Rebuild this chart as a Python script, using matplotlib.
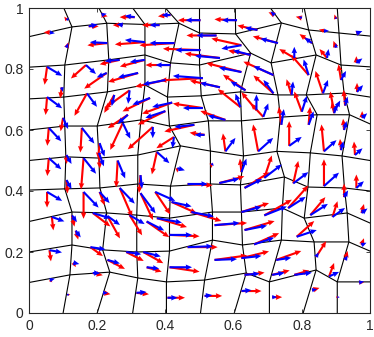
"""
Distorted quad mesh with two vector fields (red / blue) drawn at scattered points.
"""
import matplotlib
matplotlib.use("Agg")
import matplotlib.pyplot as plt
import numpy as np

plt.rcParams["font.family"] = ["Liberation Sans", "DejaVu Sans"]

# ── Mesh nodes (rows bottom -> top, 11 x 11) ─────────────────────────────────

MESH_X = [
    [0, 0.100, 0.200, 0.304, 0.403, 0.503, 0.602, 0.705, 0.804, 0.904, 1],
    [0, 0.120, 0.237, 0.319, 0.403, 0.515, 0.637, 0.705, 0.842, 0.904, 1],
    [0, 0.126, 0.216, 0.316, 0.412, 0.538, 0.626, 0.740, 0.836, 0.938, 1],
    [0, 0.126, 0.228, 0.316, 0.412, 0.538, 0.623, 0.743, 0.807, 0.933, 1],
    [0, 0.105, 0.208, 0.319, 0.415, 0.532, 0.620, 0.749, 0.818, 0.925, 1],
    [0, 0.108, 0.205, 0.319, 0.444, 0.532, 0.629, 0.727, 0.825, 0.918, 1],
    [0, 0.105, 0.200, 0.328, 0.412, 0.526, 0.623, 0.737, 0.845, 0.940, 1],
    [0, 0.102, 0.230, 0.340, 0.406, 0.505, 0.620, 0.730, 0.813, 0.924, 1],
    [0, 0.105, 0.234, 0.340, 0.415, 0.500, 0.650, 0.710, 0.842, 0.915, 1],
    [0, 0.126, 0.228, 0.340, 0.440, 0.500, 0.606, 0.740, 0.820, 0.909, 1],
    [0, 0.102, 0.205, 0.304, 0.400, 0.500, 0.605, 0.708, 0.807, 0.904, 1],
]
MESH_Y = [
    [0.000, 0.000, 0.000, 0.000, 0.000, 0.000, 0.000, 0.000, 0.000, 0.000, 0.000],
    [0.100, 0.125, 0.134, 0.115, 0.102, 0.108, 0.131, 0.102, 0.141, 0.102, 0.102],
    [0.200, 0.223, 0.207, 0.200, 0.203, 0.239, 0.223, 0.239, 0.233, 0.233, 0.203],
    [0.300, 0.331, 0.328, 0.321, 0.311, 0.331, 0.331, 0.344, 0.311, 0.328, 0.295],
    [0.403, 0.407, 0.410, 0.423, 0.416, 0.423, 0.420, 0.446, 0.413, 0.410, 0.400],
    [0.500, 0.512, 0.508, 0.518, 0.548, 0.531, 0.515, 0.530, 0.525, 0.515, 0.500],
    [0.600, 0.613, 0.613, 0.633, 0.613, 0.630, 0.630, 0.642, 0.650, 0.650, 0.620],
    [0.702, 0.708, 0.725, 0.748, 0.708, 0.712, 0.725, 0.715, 0.715, 0.721, 0.708],
    [0.806, 0.813, 0.830, 0.846, 0.820, 0.813, 0.852, 0.820, 0.846, 0.813, 0.807],
    [0.906, 0.938, 0.950, 0.946, 0.950, 0.918, 0.915, 0.951, 0.928, 0.918, 0.908],
    [1.000, 1.000, 1.000, 1.000, 1.000, 1.000, 1.000, 1.000, 1.000, 1.000, 1.000],
]

# ── Arrow data: (x, y, red_u, red_v, blue_u, blue_v) ─────────────────────────

ARROWS = [
    # top strip
    (0.111, 0.960, -0.005, 0.008, 0.004, 0.006),
    (0.213, 0.977, 0.012, -0.003, 0.010, 0.003),
    (0.310, 0.970, -0.030, 0.000, -0.020, 0.003),
    (0.415, 0.977, -0.025, -0.003, -0.018, 0.000),
    (0.503, 0.960, -0.045, 0.000, -0.030, 0.000),
    (0.610, 0.960, -0.045, 0.002, -0.030, 0.000),
    (0.720, 0.977, -0.012, 0.006, -0.008, 0.008),
    (0.800, 0.967, -0.012, 0.003, -0.006, 0.004),
    (0.900, 0.964, -0.003, 0.010, 0.000, 0.006),
    # y ~ 0.9
    (0.061, 0.920, -0.012, 0.000, 0.010, -0.002),
    (0.175, 0.940, 0.020, 0.000, 0.018, 0.004),
    (0.110, 0.870, 0.004, 0.012, 0.003, 0.010),
    (0.230, 0.885, -0.040, -0.005, -0.035, 0.002),
    (0.275, 0.944, -0.020, 0.000, -0.012, 0.002),
    (0.383, 0.944, -0.035, 0.000, -0.020, 0.000),
    (0.340, 0.888, -0.060, -0.005, -0.040, 0.005),
    (0.427, 0.885, -0.070, -0.005, -0.050, 0.000),
    (0.503, 0.862, -0.075, 0.003, -0.050, 0.000),
    (0.550, 0.910, -0.060, 0.000, -0.040, 0.000),
    (0.670, 0.928, -0.040, 0.010, -0.025, 0.005),
    (0.623, 0.878, -0.060, 0.015, -0.040, -0.008),
    (0.730, 0.885, -0.050, 0.015, -0.035, 0.010),
    (0.830, 0.885, -0.025, 0.020, -0.015, 0.012),
    (0.865, 0.925, -0.010, 0.003, 0.010, 0.000),
    (0.900, 0.870, -0.005, 0.015, 0.000, 0.010),
    (0.960, 0.917, 0.010, 0.005, 0.012, 0.005),
    # y ~ 0.8
    (0.053, 0.807, -0.005, -0.040, 0.030, -0.020),
    (0.167, 0.813, -0.030, -0.030, 0.020, -0.020),
    (0.228, 0.787, -0.045, -0.035, -0.020, -0.010),
    (0.266, 0.830, -0.040, -0.010, -0.030, -0.003),
    (0.340, 0.830, -0.050, -0.015, -0.030, -0.005),
    (0.415, 0.813, -0.050, 0.000, -0.030, 0.000),
    (0.510, 0.770, -0.085, -0.005, -0.060, 0.005),
    (0.320, 0.787, -0.060, -0.020, -0.040, -0.010),
    (0.400, 0.764, -0.060, -0.015, -0.045, -0.010),
    (0.560, 0.836, -0.070, 0.010, -0.050, 0.005),
    (0.650, 0.846, -0.045, 0.010, -0.035, 0.010),
    (0.623, 0.790, -0.070, 0.020, -0.045, 0.010),
    (0.717, 0.780, -0.060, 0.030, -0.040, 0.020),
    (0.778, 0.836, -0.030, 0.020, 0.000, 0.025),
    (0.874, 0.836, -0.015, 0.020, 0.003, 0.020),
    (0.960, 0.820, 0.000, 0.015, 0.012, 0.010),
    (0.820, 0.780, -0.035, 0.045, -0.010, 0.035),
    (0.915, 0.764, -0.005, 0.035, 0.010, 0.020),
    # y ~ 0.7
    (0.053, 0.708, -0.003, -0.040, 0.030, -0.025),
    (0.170, 0.720, -0.025, -0.050, 0.020, -0.030),
    (0.096, 0.740, -0.003, -0.025, 0.002, -0.010),
    (0.250, 0.715, -0.020, -0.040, -0.005, -0.025),
    (0.295, 0.730, -0.050, -0.040, -0.003, -0.030),
    (0.355, 0.705, -0.055, -0.030, -0.035, -0.015),
    (0.420, 0.690, -0.060, -0.025, -0.040, -0.010),
    (0.510, 0.672, -0.060, 0.010, -0.040, 0.000),
    (0.560, 0.740, -0.060, 0.015, -0.040, 0.010),
    (0.635, 0.730, -0.045, 0.035, -0.030, 0.020),
    (0.717, 0.720, -0.040, 0.040, -0.020, 0.030),
    (0.620, 0.675, -0.045, 0.040, -0.010, 0.030),
    (0.667, 0.665, -0.030, 0.040, 0.000, 0.035),
    (0.770, 0.715, -0.010, 0.035, 0.003, 0.030),
    (0.862, 0.720, -0.015, 0.050, 0.010, 0.030),
    (0.962, 0.725, 0.000, 0.020, 0.012, 0.015),
    (0.800, 0.660, -0.015, 0.045, 0.010, 0.035),
    (0.895, 0.660, -0.008, 0.045, 0.012, 0.025),
    (0.927, 0.680, -0.003, 0.035, 0.005, 0.020),
    # y ~ 0.6
    (0.058, 0.607, -0.003, -0.040, 0.025, -0.030),
    (0.100, 0.640, -0.005, -0.030, 0.010, -0.025),
    (0.155, 0.607, -0.003, -0.055, 0.025, -0.035),
    (0.207, 0.557, -0.003, -0.035, 0.010, -0.030),
    (0.290, 0.650, -0.040, -0.030, -0.020, -0.020),
    (0.275, 0.623, -0.025, -0.060, 0.015, -0.035),
    (0.400, 0.662, -0.055, -0.030, -0.040, -0.015),
    (0.363, 0.610, -0.050, -0.050, 0.000, -0.025),
    (0.425, 0.577, -0.035, -0.025, -0.003, -0.025),
    (0.485, 0.617, -0.060, -0.015, -0.040, -0.005),
    (0.576, 0.633, -0.050, 0.020, -0.035, 0.010),
    (0.515, 0.584, -0.030, 0.005, -0.020, 0.000),
    (0.576, 0.530, -0.005, 0.040, 0.020, 0.030),
    (0.672, 0.530, -0.010, 0.060, 0.030, 0.030),
    (0.687, 0.643, -0.025, 0.030, 0.010, 0.030),
    (0.740, 0.617, -0.005, 0.040, 0.005, 0.035),
    (0.763, 0.548, 0.000, 0.055, 0.025, 0.020),
    (0.820, 0.617, 0.003, 0.040, 0.010, 0.030),
    (0.865, 0.530, -0.005, 0.060, 0.025, 0.025),
    (0.895, 0.655, -0.005, 0.025, 0.005, 0.020),
    (0.924, 0.600, -0.002, 0.025, 0.005, 0.020),
    (0.956, 0.518, -0.002, 0.030, 0.015, 0.015),
    (0.977, 0.640, 0.000, 0.015, 0.010, 0.010),
    # y ~ 0.5
    (0.058, 0.508, -0.003, -0.040, 0.025, -0.025),
    (0.110, 0.518, 0.000, -0.020, 0.010, -0.020),
    (0.160, 0.508, -0.005, -0.070, 0.025, -0.035),
    (0.205, 0.525, 0.002, -0.035, 0.010, -0.030),
    (0.260, 0.500, -0.003, -0.060, 0.015, -0.040),
    (0.327, 0.452, -0.003, -0.040, 0.003, -0.030),
    (0.375, 0.528, -0.010, -0.050, 0.025, -0.025),
    (0.435, 0.475, 0.000, -0.010, 0.015, -0.005),
    (0.535, 0.490, 0.000, -0.010, 0.005, -0.005),
    (0.623, 0.462, -0.003, 0.030, 0.010, 0.030),
    (0.690, 0.443, 0.015, 0.050, 0.035, 0.030),
    (0.775, 0.425, 0.010, 0.050, 0.030, 0.025),
    (0.865, 0.416, 0.000, 0.060, 0.030, 0.030),
    (0.960, 0.410, 0.000, 0.030, 0.015, 0.015),
    (0.915, 0.534, -0.002, 0.025, 0.005, 0.020),
    # y ~ 0.4
    (0.053, 0.397, 0.000, -0.035, 0.030, -0.020),
    (0.110, 0.436, 0.002, -0.030, 0.010, -0.020),
    (0.160, 0.397, 0.000, -0.060, 0.030, -0.035),
    (0.207, 0.397, 0.010, -0.030, 0.020, -0.025),
    (0.266, 0.410, 0.025, -0.065, 0.030, -0.035),
    (0.327, 0.393, 0.025, -0.060, 0.030, -0.045),
    (0.370, 0.397, 0.030, -0.050, 0.040, -0.020),
    (0.418, 0.364, 0.050, -0.025, 0.040, -0.010),
    (0.465, 0.423, 0.050, -0.003, 0.040, 0.000),
    (0.558, 0.426, 0.050, 0.015, 0.040, 0.010),
    (0.632, 0.410, 0.050, 0.035, 0.035, 0.020),
    # y ~ 0.3
    (0.067, 0.315, 0.003, -0.030, 0.025, -0.010),
    (0.126, 0.320, 0.005, -0.025, 0.010, -0.015),
    (0.137, 0.270, 0.005, -0.020, 0.010, -0.015),
    (0.187, 0.328, 0.035, -0.030, 0.035, -0.012),
    (0.230, 0.318, 0.025, -0.050, 0.025, -0.020),
    (0.295, 0.321, 0.025, -0.045, 0.030, -0.020),
    (0.345, 0.300, 0.045, -0.035, 0.035, -0.020),
    (0.375, 0.311, 0.060, -0.020, 0.050, -0.010),
    (0.412, 0.256, 0.060, -0.003, 0.045, 0.000),
    (0.476, 0.331, 0.060, -0.020, 0.045, -0.010),
    (0.544, 0.288, 0.065, 0.005, 0.050, 0.005),
    (0.623, 0.331, 0.055, 0.020, 0.040, 0.012),
    (0.632, 0.272, 0.060, 0.020, 0.045, 0.010),
    (0.690, 0.320, 0.055, 0.035, 0.045, 0.020),
    (0.760, 0.344, 0.040, 0.050, 0.035, 0.025),
    (0.785, 0.250, 0.035, 0.035, 0.040, 0.015),
    (0.825, 0.321, 0.030, 0.040, 0.035, 0.025),
    (0.890, 0.315, 0.010, 0.035, 0.025, 0.020),
    (0.924, 0.380, 0.000, 0.030, 0.008, 0.015),
    (0.975, 0.328, 0.005, 0.020, 0.012, 0.010),
    # y ~ 0.2
    (0.060, 0.206, 0.003, -0.025, 0.025, -0.005),
    (0.130, 0.165, 0.005, -0.010, 0.012, -0.003),
    (0.180, 0.216, 0.025, -0.020, 0.030, -0.005),
    (0.230, 0.174, 0.035, -0.020, 0.025, -0.008),
    (0.285, 0.200, 0.035, -0.020, 0.030, -0.005),
    (0.335, 0.200, 0.040, -0.025, 0.035, -0.010),
    (0.345, 0.150, 0.030, -0.010, 0.025, -0.003),
    (0.412, 0.150, 0.060, -0.010, 0.045, 0.000),
    (0.465, 0.216, 0.060, 0.000, 0.050, 0.002),
    (0.544, 0.174, 0.065, 0.010, 0.045, 0.002),
    (0.623, 0.180, 0.055, 0.015, 0.040, 0.005),
    (0.660, 0.225, 0.050, 0.025, 0.040, 0.015),
    (0.725, 0.174, 0.050, 0.020, 0.030, 0.005),
    (0.842, 0.184, 0.020, 0.035, 0.005, 0.010),
    (0.927, 0.174, 0.005, 0.020, 0.005, 0.010),
    (0.975, 0.223, 0.005, 0.015, 0.010, 0.005),
    # bottom strip
    (0.061, 0.108, 0.005, -0.005, 0.010, 0.003),
    (0.114, 0.060, 0.005, 0.000, 0.003, 0.002),
    (0.217, 0.066, 0.015, -0.003, 0.010, 0.000),
    (0.187, 0.131, 0.020, -0.005, 0.015, 0.000),
    (0.315, 0.066, 0.025, -0.003, 0.020, 0.002),
    (0.406, 0.050, 0.035, 0.000, 0.020, 0.000),
    (0.515, 0.056, 0.035, 0.000, 0.015, 0.002),
    (0.623, 0.072, 0.040, 0.000, 0.020, 0.002),
    (0.713, 0.052, 0.020, 0.000, 0.010, 0.000),
    (0.632, 0.125, 0.040, 0.005, 0.030, 0.003),
    (0.713, 0.125, 0.035, 0.010, 0.025, 0.005),
    (0.778, 0.125, 0.030, 0.010, 0.035, 0.005),
    (0.830, 0.075, 0.015, 0.005, 0.010, 0.002),
    (0.880, 0.120, 0.010, 0.030, 0.020, 0.010),
    (0.904, 0.052, 0.003, 0.003, 0.005, 0.000),
    (0.968, 0.100, 0.010, 0.000, 0.010, 0.002),
]

TICKS = [0, 0.2, 0.4, 0.6, 0.8, 1]
TICK_LABELS = ["0", "0.2", "0.4", "0.6", "0.8", "1"]

# ── Plot ─────────────────────────────────────────────────────────────────────

mx = np.array(MESH_X)
my = np.array(MESH_Y)
arr = np.array(ARROWS)
px, py = arr[:, 0], arr[:, 1]

fig = plt.figure(figsize=(3.74, 3.37), dpi=100)
ax = fig.add_axes([29 / 374, 24 / 337, 341 / 374, 305 / 337])

for j in range(1, mx.shape[0] - 1):
    ax.plot(mx[j], my[j], color="black", lw=0.8, zorder=1)
for i in range(1, mx.shape[1] - 1):
    ax.plot(mx[:, i], my[:, i], color="black", lw=0.8, zorder=1)

# arrows drawn a bit longer than the stored vectors (quiver auto-scale look)
qkw = dict(angles="xy", scale_units="xy", scale=0.68, width=0.0062,
           headwidth=2.6, headlength=3.0, headaxislength=2.8, zorder=3)
ax.quiver(px, py, arr[:, 2], arr[:, 3], color="#ff0000", **qkw)
ax.quiver(px, py, arr[:, 4], arr[:, 5], color="#0000ff", **qkw)

ax.set_xlim(0, 1)
ax.set_ylim(0, 1)
ax.set_xticks(TICKS)
ax.set_xticklabels(TICK_LABELS)
ax.set_yticks(TICKS)
ax.set_yticklabels(TICK_LABELS)
ax.tick_params(direction="in", length=3, width=0.6, colors="#262626",
               labelsize=10, top=True, right=True, pad=4)
for s in ax.spines.values():
    s.set_color("#262626")
    s.set_linewidth(0.8)

fig.savefig("out.png", dpi=100)
plt.close(fig)
